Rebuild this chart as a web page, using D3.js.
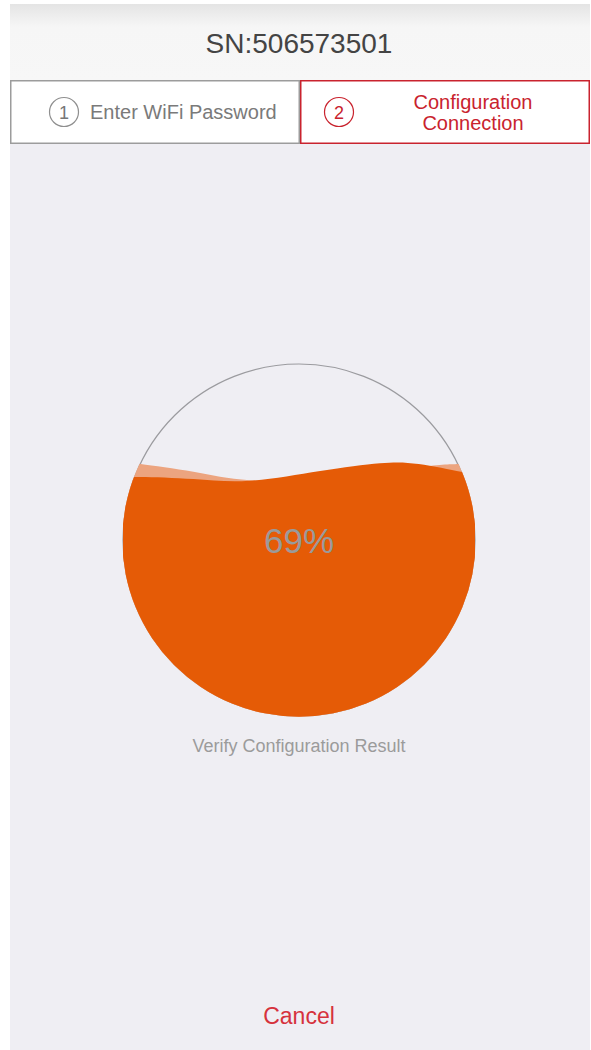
<!DOCTYPE html>
<html>
<head>
<meta charset="utf-8">
<script src="https://cdn.jsdelivr.net/npm/d3@7"></script>
<style>
  body { margin: 0; background: #fff; }
  svg { display: block; font-family: "Liberation Sans", Arial, sans-serif; }
</style>
</head>
<body>
<div id="chart"></div>
<script>
// values
const serial = "SN:506573501";
const steps = ["Enter WiFi Password", "Configuration Connection"];
const progress = 69;
const statusLabel = "Verify Configuration Result";
const cancelLabel = "Cancel";

// wave crest samples: [position across circle 0..1, fill level in %]
const frontWave = [[0, 67.6], [0.05, 67.9], [0.2, 67.3], [0.36, 66.8], [0.56, 69.6], [0.73, 71.8], [0.84, 71.6], [0.96, 69.4], [1, 68.6]];
const backWave = [[0, 72.2], [0.05, 71.6], [0.2, 69.4], [0.36, 67.0], [0.6, 67.6], [0.85, 70.8], [0.96, 71.6], [1, 71.9]];

const W = 591, H = 1050;
const left = 10, right = 590;

const svg = d3.select("#chart").append("svg")
    .attr("width", W)
    .attr("height", H);

const defs = svg.append("defs");
const grad = defs.append("linearGradient").attr("id", "hdr").attr("x1", 0).attr("y1", 0).attr("x2", 0).attr("y2", 1);
grad.append("stop").attr("offset", "0%").attr("stop-color", "#e4e4e4");
grad.append("stop").attr("offset", "30%").attr("stop-color", "#f6f6f6");
grad.append("stop").attr("offset", "100%").attr("stop-color", "#f7f7f7");

// page background
svg.append("rect").attr("x", left).attr("y", 4).attr("width", right - left).attr("height", H - 4).attr("fill", "#efeef3");

// header
svg.append("rect").attr("x", left).attr("y", 4).attr("width", right - left).attr("height", 76).attr("fill", "url(#hdr)");
svg.append("text")
    .attr("x", 299).attr("y", 53)
    .attr("text-anchor", "middle")
    .style("font-size", "28px")
    .attr("fill", "#444")
    .text(serial);

// step tabs
const tabX = d3.scaleBand().domain(d3.range(steps.length)).range([left, right]);
const tabs = svg.selectAll("g.tab").data(steps).join("g")
    .attr("class", "tab")
    .attr("transform", (d, i) => `translate(${tabX(i)},80)`);

tabs.append("rect")
    .attr("x", 0.75).attr("y", 0.75)
    .attr("width", tabX.bandwidth() - 1.5).attr("height", 62.5)
    .attr("fill", "#fff")
    .attr("stroke", (d, i) => i === 1 ? "#c9232e" : "#9c9c9c")
    .attr("stroke-width", 1.5);

tabs.append("circle")
    .attr("cx", (d, i) => i === 1 ? 39 : 54)
    .attr("cy", 32)
    .attr("r", 14.5)
    .attr("fill", "none")
    .attr("stroke", (d, i) => i === 1 ? "#c9232e" : "#8f8f8f")
    .attr("stroke-width", 1.2);

tabs.append("text")
    .attr("x", (d, i) => i === 1 ? 39 : 54)
    .attr("y", 39)
    .attr("text-anchor", "middle")
    .style("font-size", "18px")
    .attr("fill", (d, i) => i === 1 ? "#c9232e" : "#777")
    .text((d, i) => i + 1);

// tab 1 label on one line
tabs.filter((d, i) => i === 0).append("text")
    .attr("x", 80).attr("y", 39)
    .style("font-size", "20px")
    .attr("fill", "#7a7a7a")
    .text(d => d);

// tab 2 label on two lines
tabs.filter((d, i) => i === 1).append("text")
    .attr("text-anchor", "middle")
    .style("font-size", "20px")
    .attr("fill", "#c9232e")
    .selectAll("tspan")
    .data(d => d.split(" "))
    .join("tspan")
    .attr("x", 173)
    .attr("y", (d, i) => 29 + i * 21)
    .text(d => d);

// progress circle
const cx = 299, cy = 540, r = 176;
const x = d3.scaleLinear().domain([0, 1]).range([cx - r, cx + r]);
const y = d3.scaleLinear().domain([0, 100]).range([cy + r, cy - r]);

defs.append("clipPath").attr("id", "disc")
    .append("circle").attr("cx", cx).attr("cy", cy).attr("r", r + 0.7);

// outline sits under the liquid so only the empty part shows it
svg.append("circle")
    .attr("cx", cx).attr("cy", cy).attr("r", r)
    .attr("fill", "#efeef3")
    .attr("stroke", "#9b9b9f")
    .attr("stroke-width", 1.2);

const area = d3.area()
    .x(d => x(d[0]))
    .y0(y(0) + 2)
    .y1(d => y(d[1]))
    .curve(d3.curveNatural);

const liquid = svg.append("g").attr("clip-path", "url(#disc)");
liquid.append("path").datum(backWave).attr("d", area).attr("fill", "#eca47f");
liquid.append("path").datum(frontWave).attr("d", area).attr("fill", "#e55b06");

svg.append("text")
    .attr("x", cx).attr("y", y(50) + 13)
    .attr("text-anchor", "middle")
    .style("font-size", "35px")
    .attr("fill", "#9a9a9a")
    .text(progress + "%");

svg.append("text")
    .attr("x", 299).attr("y", 752)
    .attr("text-anchor", "middle")
    .style("font-size", "18px")
    .attr("fill", "#9b9b9b")
    .text(statusLabel);

svg.append("text")
    .attr("x", 299).attr("y", 1024)
    .attr("text-anchor", "middle")
    .style("font-size", "23px")
    .attr("fill", "#d6323c")
    .text(cancelLabel);
</script>
</body>
</html>
